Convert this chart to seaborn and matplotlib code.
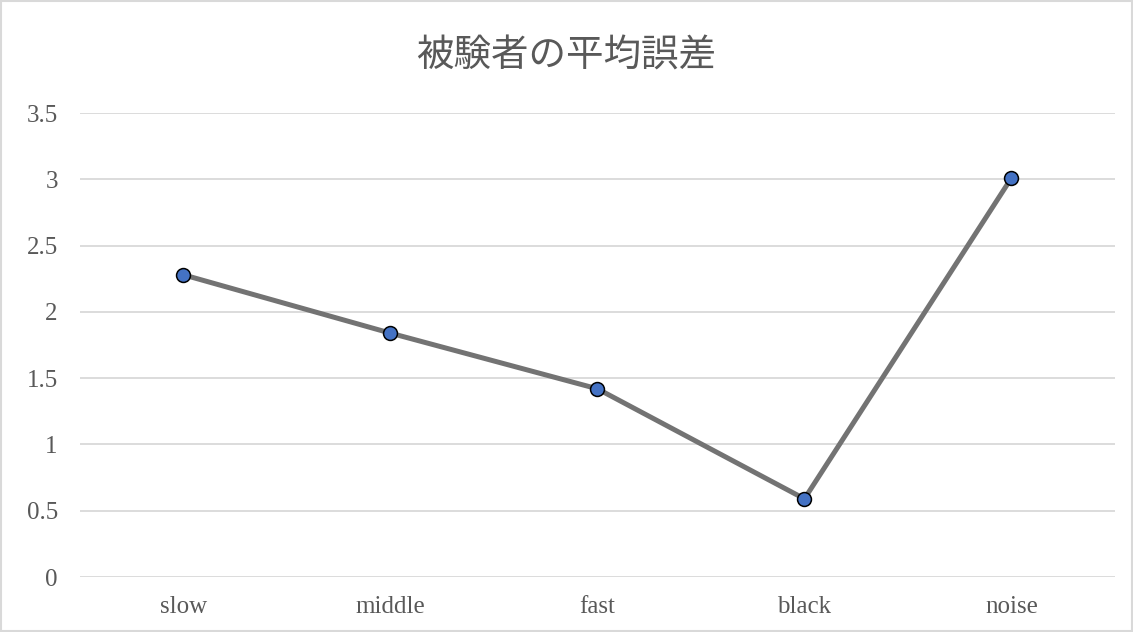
import pandas as pd
import matplotlib
matplotlib.use("Agg")
import matplotlib.pyplot as plt
import matplotlib.patches as patches
import seaborn as sns

categories = ["slow", "middle", "fast", "black", "noise"]
mean_error = [2.28, 1.84, 1.42, 0.59, 3.01]
title = "被験者の平均誤差"
y_ticks = [0, 0.5, 1, 1.5, 2, 2.5, 3, 3.5]
y_tick_labels = ["0", "0.5", "1", "1.5", "2", "2.5", "3", "3.5"]

df = pd.DataFrame({"condition": categories, "error": mean_error})

sns.set_theme(style="white")
plt.rcParams["font.family"] = ["Liberation Serif", "Noto Sans CJK JP", "DejaVu Sans"]

fig = plt.figure(figsize=(11.33, 6.32), dpi=100)
ax = fig.add_axes([0.0706, 0.087, 0.9134, 0.734])

sns.lineplot(data=df, x="condition", y="error", ax=ax, sort=False,
             color="#737373", linewidth=3.6, marker="o", markersize=10,
             markerfacecolor="#4472C4", markeredgecolor="black",
             markeredgewidth=1.1)

ax.set_xlim(-0.5, len(categories) - 0.5)
ax.set_ylim(0, 3.5)
ax.set_yticks(y_ticks)
ax.set_yticklabels(y_tick_labels)
ax.yaxis.grid(True, color="#d9d9d9", linewidth=1.3)
ax.set_axisbelow(True)
for s in ax.spines.values():
    s.set_visible(False)
ax.tick_params(axis="y", length=0, pad=16, labelsize=18, labelcolor="#595959")
ax.tick_params(axis="x", length=0, pad=14, labelsize=18, labelcolor="#595959")
ax.set_xlabel("")
ax.set_ylabel("")

fig.text(0.5, 0.912, title, ha="center", va="center", fontsize=27,
         color="#595959", family=["Noto Sans CJK JP", "DejaVu Sans"])

fig.patches.append(patches.Rectangle((0.001, 0.001), 0.998, 0.997,
                                     transform=fig.transFigure, fill=False,
                                     edgecolor="#d9d9d9", linewidth=1.5))

fig.savefig("out.png", dpi=100)
